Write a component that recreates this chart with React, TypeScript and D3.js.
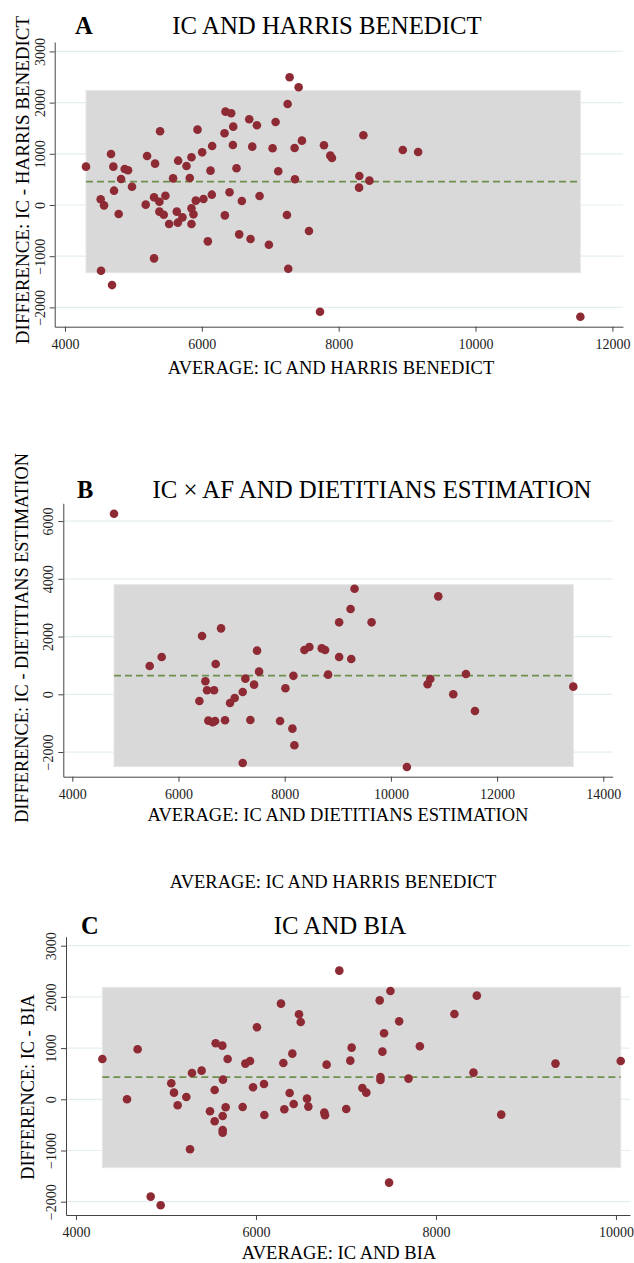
import React, { useEffect, useRef } from 'react';
import * as d3 from 'd3';

type Pt = [number, number];

// average, difference pairs
const harrisPoints: Pt[] = [
    [4307, 749], [4522, 111], [4571, -7], [4527, -1283], [4688, -1564], [4673, 997], [4707, 749],
    [4717, 280], [4785, -176], [4820, 508], [4873, 704], [4922, 678], [4980, 358], [5200, 958],
    [5180, 7], [5317, 808], [5302, -1042], [5390, 1440], [5302, 150], [5380, 65], [5468, 182],
    [5380, -130], [5444, -189], [5522, -371], [5580, 521], [5654, 866], [5634, -130], [5649, -345],
    [5717, -241], [5776, 762], [5824, 528], [5849, 932], [5849, -65], [5878, -182], [5849, -371],
    [5912, 85], [5937, 1472], [6005, 1029], [6024, 117], [6127, 671], [6151, 1153], [6146, 202],
    [6088, -710], [6332, 1401], [6346, 1824], [6429, 1792], [6459, 1531], [6454, 1173], [6507, 717],
    [6405, 248], [6337, -202], [6585, 78], [6546, -573], [6693, 1674], [6805, 1557], [6737, 1140],
    [6844, 176], [6712, -665], [6980, -775], [7078, 1622], [7034, 1108], [7117, 658], [7254, 1974],
    [7283, 2495], [7415, 2300], [7356, 1114], [7361, 502], [7463, 1257], [7244, -195], [7263, -1244],
    [7566, -508], [7727, -2085], [7785, 1166], [7878, 964], [7902, 919], [8361, 1362], [8302, 567],
    [8449, 476], [8298, 339], [8937, 1075], [9161, 1036], [11532, -2183]
];

const dietitianPoints: Pt[] = [
    [4785, 6255], [5457, 981], [5683, 1292], [6443, 2020], [6801, 2285], [6700, 1050], [6506, 450],
    [6537, 138], [6669, 138], [6393, -231], [6562, -912], [6644, -969], [6688, -923], [6876, -900],
    [6970, -300], [7058, -127], [7209, 81], [7259, 542], [7209, -2377], [7353, -889], [7423, 335],
    [7479, 1512], [7517, 785], [7912, -923], [8013, 208], [8164, 640], [8145, -1189], [8182, -1766],
    [8371, 1535], [8465, 1639], [8697, 1592], [8760, 1535], [8817, 681], [9025, 2493], [9025, 1292],
    [9315, 3658], [9240, 2954], [9253, 1223], [9636, 2493], [10892, 3393], [10301, -2516],
    [10691, 346], [10741, 531], [11174, 0], [11413, 704], [11583, -577], [13435, 265]
];

const biaPoints: Pt[] = [
    [4293, 788], [4567, 0], [4685, 977], [4830, -1901], [4941, -2070], [5059, 312], [5089, 130],
    [5130, -117], [5226, 46], [5267, -977], [5289, 514], [5396, 560], [5489, -234], [5541, 182],
    [5541, -430], [5552, 1094], [5626, 1048], [5633, 384], [5630, -326], [5630, -599], [5630, -651],
    [5663, -156], [5685, 788], [5852, -150], [5882, 697], [5934, 749], [5967, 234], [6011, 1406],
    [6089, 299], [6093, -306], [6278, 1868], [6304, 710], [6315, -195], [6374, 124], [6404, 892],
    [6419, -91], [6478, 1660], [6497, 1510], [6567, 13], [6582, -143], [6759, -260], [6767, -312],
    [6785, 677], [6926, 2513], [7063, 1009], [7048, 755], [7003, -189], [7182, 221], [7226, 130],
    [7375, 1933], [7494, 2116], [7423, 1289], [7405, 931], [7591, 1523], [7383, 436], [7383, 378],
    [7695, 404], [7821, 1035], [8205, 1666], [8454, 2025], [8417, 521], [8725, -299], [9328, 697],
    [10053, 749], [7479, -1627]
];

// mean difference and limits of agreement
const harrisLimits = { mean: 455, upper: 2235, lower: -1322 };
const dietitianLimits = { mean: 646, upper: 3797, lower: -2504 };
const biaLimits = { mean: 432, upper: 2187, lower: -1335 };

const harrisXTicks = [4000, 6000, 8000, 10000, 12000];
const harrisYTicks = [-2000, -1000, 0, 1000, 2000, 3000];
const dietitianXTicks = [4000, 6000, 8000, 10000, 12000, 14000];
const dietitianYTicks = [-2000, 0, 2000, 4000, 6000];
const biaXTicks = [4000, 6000, 8000, 10000];
const biaYTicks = [-2000, -1000, 0, 1000, 2000, 3000];

const W = 634;
const H = 1263;
const FONT = '"Liberation Serif", "Times New Roman", serif';

interface Panel {
    letter: string;
    title: string;
    xLabel: string;
    yLabel: string;
    points: Pt[];
    limits: { mean: number; upper: number; lower: number };
    xTicks: number[];
    yTicks: number[];
    xDomain: [number, number];
    yDomain: [number, number];
    box: { left: number; right: number; top: number; bottom: number };
    letterX: number;
    titleX: number;
    titleY: number;
    xLabelX: number;
    xLabelY: number;
    yLabelX: number;
    yLabelY: number;
    yLabelSize: number;
}

const panels: Panel[] = [
    {
        letter: 'A', title: 'IC AND HARRIS BENEDICT',
        xLabel: 'AVERAGE: IC AND HARRIS BENEDICT', yLabel: 'DIFFERENCE: IC - HARRIS BENEDICT',
        points: harrisPoints, limits: harrisLimits, xTicks: harrisXTicks, yTicks: harrisYTicks,
        xDomain: [3850, 12155], yDomain: [-2377, 3184],
        box: { left: 54.7, right: 623, top: 42, bottom: 326.7 },
        letterX: 75, titleX: 327, titleY: 34, xLabelX: 331, xLabelY: 374, yLabelX: 22, yLabelY: 180,
        yLabelSize: 19
    },
    {
        letter: 'B', title: 'IC × AF AND DIETITIANS ESTIMATION',
        xLabel: 'AVERAGE: IC AND DIETITIANS ESTIMATION', yLabel: 'DIFFERENCE: IC - DIETITIANS ESTIMATION',
        points: dietitianPoints, limits: dietitianLimits, xTicks: dietitianXTicks, yTicks: dietitianYTicks,
        xDomain: [3830, 14177], yDomain: [-2854, 6616],
        box: { left: 63.3, right: 612.7, top: 503.3, bottom: 776.7 },
        letterX: 77, titleX: 372, titleY: 498, xLabelX: 338, xLabelY: 821, yLabelX: 22, yLabelY: 638,
        yLabelSize: 18.3
    },
    {
        letter: 'C', title: 'IC AND BIA',
        xLabel: 'AVERAGE: IC AND BIA', yLabel: 'DIFFERENCE: IC - BIA',
        points: biaPoints, limits: biaLimits, xTicks: biaXTicks, yTicks: biaYTicks,
        xDomain: [3889, 10156], yDomain: [-2260, 3176],
        box: { left: 66, right: 630, top: 936.7, bottom: 1215 },
        letterX: 81, titleX: 340, titleY: 934, xLabelX: 339, xLabelY: 1259, yLabelX: 28, yLabelY: 1087,
        yLabelSize: 18.3
    }
];

const App: React.FC = () => {
    const svgRef = useRef<SVGSVGElement>(null);

    useEffect(() => {
        if (!svgRef.current) return;
        const svg = d3.select(svgRef.current);
        svg.selectAll('*').remove();

        svg.append('rect').attr('width', W).attr('height', H).attr('fill', '#fff');

        panels.forEach(p => {
            const g = svg.append('g');
            const x = d3.scaleLinear().domain(p.xDomain).range([p.box.left, p.box.right]);
            const y = d3.scaleLinear().domain(p.yDomain).range([p.box.bottom, p.box.top]);

            // horizontal grid
            g.append('g')
                .selectAll('line')
                .data(p.yTicks)
                .join('line')
                .attr('x1', p.box.left)
                .attr('x2', p.box.right)
                .attr('y1', d => y(d))
                .attr('y2', d => y(d))
                .attr('stroke', '#e4eef1')
                .attr('stroke-width', 1.2);

            // limits of agreement band spanning the observed averages
            const [xmin, xmax] = d3.extent(p.points, d => d[0]) as [number, number];
            g.append('rect')
                .attr('x', x(xmin))
                .attr('y', y(p.limits.upper))
                .attr('width', x(xmax) - x(xmin))
                .attr('height', y(p.limits.lower) - y(p.limits.upper))
                .attr('fill', '#d9d9d9')
                .attr('stroke', '#e6e6e6')
                .attr('stroke-width', 1);

            g.append('line')
                .attr('x1', x(xmin))
                .attr('x2', x(xmax))
                .attr('y1', y(p.limits.mean))
                .attr('y2', y(p.limits.mean))
                .attr('stroke', '#6f8f4c')
                .attr('stroke-width', 1.8)
                .attr('stroke-dasharray', '7 4');

            g.append('g')
                .selectAll('circle')
                .data(p.points)
                .join('circle')
                .attr('cx', d => x(d[0]))
                .attr('cy', d => y(d[1]))
                .attr('r', 4.3)
                .attr('fill', '#8e2a33');

            // axes
            const xAxis = g.append('g')
                .attr('transform', `translate(0,${p.box.bottom})`)
                .call(d3.axisBottom(x).tickValues(p.xTicks).tickSize(5).tickSizeOuter(0).tickFormat(d3.format('d')));

            const yAxis = g.append('g')
                .attr('transform', `translate(${p.box.left},0)`)
                .call(d3.axisLeft(y).tickValues(p.yTicks).tickSize(5).tickSizeOuter(0).tickFormat(d3.format('d')));
            yAxis.selectAll('text')
                .attr('transform', 'rotate(-90)')
                .attr('x', 0)
                .attr('y', -10)
                .attr('dy', 0)
                .attr('text-anchor', 'middle');

            [xAxis, yAxis].forEach(a => {
                a.attr('font-family', FONT).attr('font-size', 14);
                a.selectAll('path, line').attr('stroke', '#444');
                a.selectAll('text').attr('fill', '#222');
            });
            xAxis.selectAll('text').attr('y', 22).attr('dy', 0);

            // text
            g.append('text')
                .attr('x', p.letterX)
                .attr('y', p.titleY)
                .attr('font-family', FONT)
                .attr('font-size', 24.5)
                .attr('font-weight', 'bold')
                .text(p.letter);

            g.append('text')
                .attr('x', p.titleX)
                .attr('y', p.titleY)
                .attr('text-anchor', 'middle')
                .attr('font-family', FONT)
                .attr('font-size', 24.8)
                .text(p.title);

            g.append('text')
                .attr('x', p.xLabelX)
                .attr('y', p.xLabelY)
                .attr('text-anchor', 'middle')
                .attr('font-family', FONT)
                .attr('font-size', 18.5)
                .text(p.xLabel);

            g.append('text')
                .attr('transform', `translate(${p.yLabelX},${p.yLabelY}) rotate(-90)`)
                .attr('text-anchor', 'middle')
                .attr('dy', '0.35em')
                .attr('font-family', FONT)
                .attr('font-size', p.yLabelSize)
                .text(p.yLabel);
        });

        // stray axis title left between panels B and C in the source figure
        svg.append('text')
            .attr('x', 333)
            .attr('y', 888)
            .attr('text-anchor', 'middle')
            .attr('font-family', FONT)
            .attr('font-size', 18.5)
            .text('AVERAGE: IC AND HARRIS BENEDICT');
    }, []);

    return (
        <svg
            ref={svgRef}
            width={W}
            height={H}
            style={{ position: 'absolute', left: 0, top: 0 }}
        />
    );
};

export default App;
